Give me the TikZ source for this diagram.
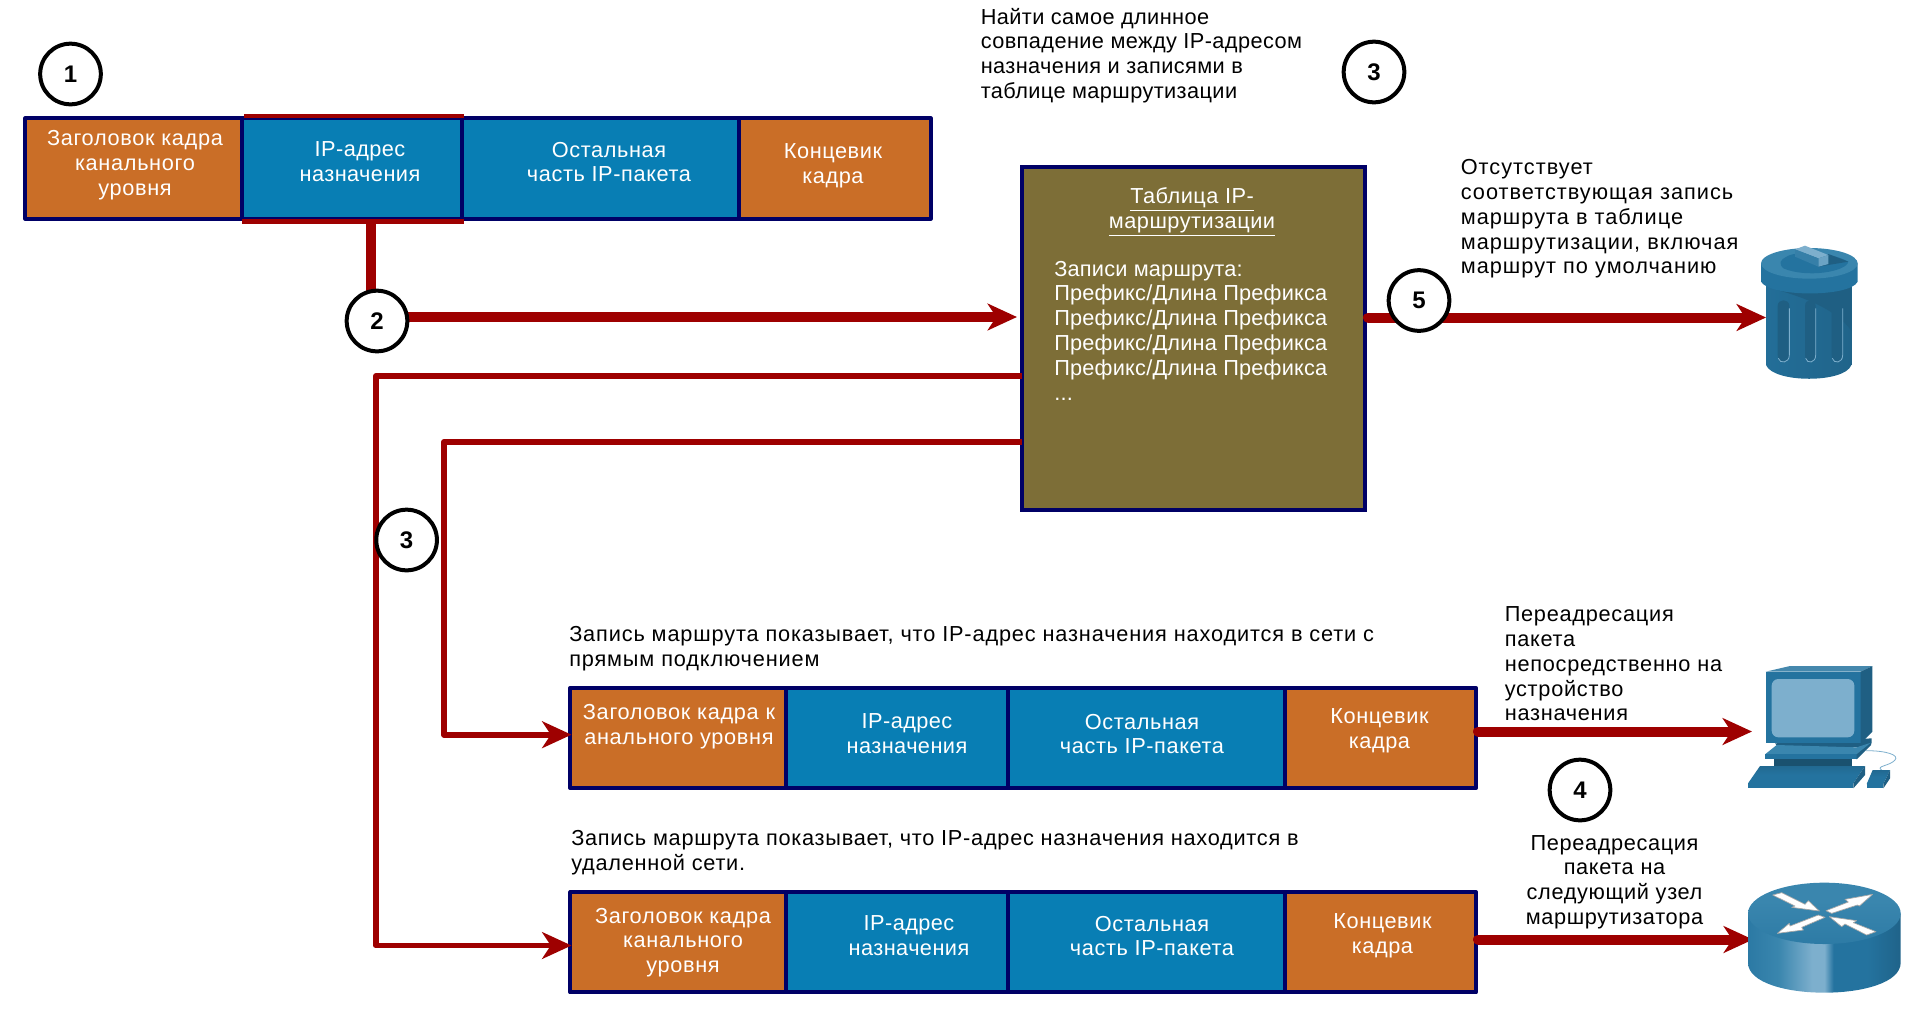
\documentclass[tikz,border=0pt]{standalone}
\usepackage{fontspec}
\setmainfont{Liberation Sans}
\usetikzlibrary{arrows.meta,calc}
\definecolor{cOrange}{HTML}{CA6E27}
\definecolor{cBlue}{HTML}{087EB4}
\definecolor{cNavy}{HTML}{000066}
\definecolor{cRed}{HTML}{9E0000}
\definecolor{cOlive}{HTML}{7D6E37}
\definecolor{iDark}{HTML}{1F5F83}
\definecolor{iMid}{HTML}{24739F}
\definecolor{iLight}{HTML}{7DAFCD}
\definecolor{iLid}{HTML}{3A86AE}
\definecolor{iDeep}{HTML}{163F58}
\pgfdeclarehorizontalshading{rside}{100bp}{color(0bp)=(iDark); color(20bp)=(iMid); color(35bp)=(iLid); color(46bp)=(iLight); color(50bp)=(iLight); color(53bp)=(iMid); color(64bp)=(iMid); color(100bp)=(iDeep)}
\pgfdeclareverticalshading{rtop}{100bp}{color(0bp)=(iMid); color(60bp)=(iLid); color(100bp)=(iLid)}
\pgfdeclareverticalshading{kbd}{100bp}{color(0bp)=(iMid); color(50bp)=(iMid); color(100bp)=(iDark)}
\pgfdeclarehorizontalshading{tbody}{100bp}{color(0bp)=(iMid); color(100bp)=(iDark)}
\tikzset{
  ls/.style={font=\fontsize{16.3pt}{18.6pt}\selectfont\addfontfeature{LetterSpace=#1}},
  txt/.style={inner sep=0pt, align=left, anchor=west, text=black},
  ctxt/.style={txt, align=center, anchor=center},
  wtxt/.style={ctxt, text=white},
  ltxt/.style={txt, text=white},
  cell/.style={draw=cNavy, line width=3pt, minimum height=75.2pt, inner sep=0pt, line join=round},
  orangecell/.style={cell, fill=cOrange},
  bluecell/.style={cell, fill=cBlue},
  badge/.style={circle, draw=black, fill=white, line width=3pt, minimum size=45.5pt, inner sep=0pt, font=\fontsize{18pt}{20pt}\selectfont\bfseries},
  headtip/.style={-{Stealth[length=22pt,width=20pt,inset=6.5pt]}},
  heavy/.style={draw=cRed, line width=7.5pt, line cap=round, headtip},
  slim/.style={draw=cRed, line width=4.4pt, line join=round, headtip},
  plainline/.style={draw=cRed, line width=7pt},
  hilite/.style={draw=cRed, line width=3.4pt},
  wingarrow/.style={fill=white, draw=gray!70, line width=.5pt, line join=round}
}
\begin{document}
\begin{tikzpicture}[x=0.75pt,y=-0.75pt]
\useasboundingbox (0,0) rectangle (1920,1033);
% top row
\node[orangecell, minimum width=162.5pt] (h1) at (133.65,168.5) {};
\node[bluecell, minimum width=165.2pt] (h2) at (352.15,168.5) {};
\node[bluecell, minimum width=207.5pt] (h3) at (600.65,168.5) {};
\node[orangecell, minimum width=143.7pt] (h4) at (834.8,168.5) {};
\node[wtxt, ls=3.1] (h1t) at (135,165) {Заголовок кадра\\канального\\уровня};
\node[wtxt, ls=2] (h2t) at (360,162) {IP-адрес\\назначения};
\node[wtxt, ls=2.8] (h3t) at (609,162) {Остальная\\часть IP-пакета};
\node[wtxt, ls=2.5] (h4t) at (833,166) {Концевик\\кадра};
\coordinate (m1a) at (244,116); \coordinate (m1b) at (464,116);
\coordinate (m2a) at (242,221.5); \coordinate (m2b) at (464,221.5);
\draw[hilite] (m1a) -- (m1b);
\draw[hilite] (m2a) -- (m2b);
% table
\node[draw=cNavy, fill=cOlive, line width=3pt, minimum width=257pt, minimum height=257pt, inner sep=0pt] (tbl) at (1193.7,338.7) {};
\node[wtxt, ls=2.3] (tblt) at (1192,212) {\underline{Таблица IP-}\\\underline{маршрутизации}};
\node[ltxt, ls=1] (tblb) at (1054,330.5) {Записи маршрута:\\Префикс/Длина Префикса\\Префикс/Длина Префикса\\Префикс/Длина Префикса\\Префикс/Длина Префикса\\...};
% labels
\node[txt, ls=1.9] (l1) at (980.5,55.5) {Найти самое длинное\\совпадение между IP-адресом\\назначения и записями в\\таблице маршрутизации};
\node[txt, ls=4.7] (l2) at (1460.5,219) {Отсутствует\\соответствующая запись\\маршрута в таблице\\маршрутизации, включая\\маршрут по умолчанию};
\node[txt, ls=3.9] (l3) at (569,649) {Запись маршрута показывает, что IP-адрес назначения находится в сети с\\прямым подключением};
\node[txt, ls=3.4] (l4) at (571,853) {Запись маршрута показывает, что IP-адрес назначения находится в\\удаленной сети.};
\node[txt, ls=3.4] (l5) at (1504.5,664) {Переадресация\\пакета\\непосредственно на\\устройство\\назначения};
\node[ctxt, ls=3] (l6) at (1614.5,882) {Переадресация\\пакета на\\следующий узел\\маршрутизатора};
% middle row
\node[orangecell, minimum width=161.8pt] (a1) at (678.15,738) {};
\node[bluecell, minimum width=166.5pt] (a2) at (897,738) {};
\node[bluecell, minimum width=207.4pt] (a3) at (1146.25,738) {};
\node[orangecell, minimum width=143.6pt] (a4) at (1380.25,738) {};
\node[wtxt, ls=3.1] (a1t) at (679,727) {Заголовок кадра к\\анального уровня};
\node[wtxt, ls=2] (a2t) at (907,734) {IP-адрес\\назначения};
\node[wtxt, ls=2.8] (a3t) at (1142,734) {Остальная\\часть IP-пакета};
\node[wtxt, ls=2.5] (a4t) at (1379.5,731) {Концевик\\кадра};
% bottom row
\node[orangecell, minimum width=161.8pt] (b1) at (678.15,942.3) {};
\node[bluecell, minimum width=166.5pt] (b2) at (897,942.3) {};
\node[bluecell, minimum width=207.4pt] (b3) at (1146.25,942.3) {};
\node[orangecell, minimum width=143.6pt] (b4) at (1380.25,942.3) {};
\node[wtxt, ls=3.1] (b1t) at (683,942.5) {Заголовок кадра\\канального\\уровня};
\node[wtxt, ls=2] (b2t) at (909,936) {IP-адрес\\назначения};
\node[wtxt, ls=2.8] (b3t) at (1152,936) {Остальная\\часть IP-пакета};
\node[wtxt, ls=2.5] (b4t) at (1382.5,936) {Концевик\\кадра};
% icon anchors
\coordinate (trash) at (1766,317.5);
\coordinate (pc) at (1752,731.5);
\coordinate (router) at (1753,939.5);
% connectors
\coordinate (v2) at (371,317);
\coordinate (tblin) at (1017,317);
\coordinate (tout) at (1368,317.5);
\coordinate (t1) at (1022,376);
\coordinate (t2) at (1022,442);
\coordinate (ain) at (571.5,734.7);
\coordinate (bin) at (571.5,945.5);
\coordinate (aout) at (1478,731.5);
\coordinate (bout) at (1478,939.5);
\draw[plainline] (h2.south -| v2) -- (v2);
\draw[heavy] (v2) -- (tblin);
\draw[heavy] (tout) -- (trash);
\draw[slim] (t1) -| (376,945.5) -- (bin);
\draw[slim] (t2) -| (444,734.7) -- (ain);
\draw[heavy] (aout) -- (pc);
\draw[heavy] (bout) -- (router);
% badges
\node[badge] (c1) at (70.5,74) {1};
\node[badge] (c2) at (377,321) {2};
\node[badge] (c3a) at (1374,72) {3};
\node[badge] (c3b) at (406.6,540) {3};
\node[badge] (c4) at (1580,790) {4};
\node[badge] (c5) at (1419,300.5) {5};
% trash can
\begin{scope}[shift={(1750,240)},x=.25pt,y=-.25pt]
  \shade[shading=tbody] (48,130) -- (48,375) .. controls (70,430) and (285,430) .. (304,375) -- (304,130) -- cycle;
  \fill[iDark] (83,150) -- (304,130) -- (304,272) .. controls (260,210) and (170,175) .. (83,150) -- cycle;
  \foreach \sx/\sw in {83/35,165/32,245/33}{
    \fill[iDark] (\sx,198) .. controls (\sx,175) and (\sx+\sw,175) .. (\sx+\sw,198) -- (\sx+\sw,345) .. controls (\sx+\sw,372) and (\sx,372) .. (\sx,345) -- cycle;
    \draw[iLight, line width=.6pt] (\sx+\sw,205) -- (\sx+\sw,345) .. controls (\sx+\sw,370) and (\sx+6,372) .. (\sx+2,355);
  }
  \fill[iMid] (33,70) -- (33,125) .. controls (60,172) and (300,172) .. (323,125) -- (323,70) -- cycle;
  \fill[iLid] (178,70) ellipse [x radius=145, y radius=46];
  \fill[iMid] (110,50) .. controls (130,35) and (230,30) .. (295,65) .. controls (290,95) and (170,115) .. (100,85) .. controls (85,70) and (90,60) .. (110,50) -- cycle;
  \fill[iDark] (205,80) -- (295,65) -- (235,42) -- cycle;
  \fill[iLight] (135,28) -- (165,17) -- (235,45) -- (205,55) -- cycle;
  \fill[iLight!80!iMid] (205,55) -- (235,45) -- (235,72) -- (205,80) -- cycle;
  \fill[iMid!80!iLight] (135,28) -- (205,55) -- (205,80) -- (135,50) -- cycle;
\end{scope}
% computer
\begin{scope}[shift={(1740,660)},x=.25pt,y=-.25pt]
  \draw[iLight, line width=.6pt] (378,272) .. controls (440,272) and (478,285) .. (465,300) .. controls (450,318) and (405,318) .. (425,330);
  \fill[iDark] (105,250) -- (395,235) -- (395,250) -- (352,262) -- (115,262) -- cycle;
  \fill[iLid] (75,283) -- (110,255) -- (350,262) -- (393,248) -- (377,268) -- (350,283) -- cycle;
  \fill[iMid] (75,283) -- (350,283) -- (350,298) -- (75,298) -- cycle;
  \fill[iDark] (350,283) -- (393,248) -- (393,255) -- (350,298) -- cycle;
  \fill[iDark!85!black] (103,298) -- (335,298) -- (335,318) -- (103,318) -- cycle;
  \shade[shading=kbd] (60,318) -- (375,318) -- (340,370) -- (24,370) -- cycle;
  \fill[iMid] (24,370) -- (340,370) -- (340,385) -- (24,385) -- cycle;
  \fill[iDark] (340,370) -- (375,318) -- (375,345) -- (340,385) -- cycle;
  \shade[shading=kbd] (398,330) -- (450,330) -- (430,372) -- (380,372) -- cycle;
  \fill[iMid] (380,372) -- (430,372) -- (430,385) -- (380,385) -- cycle;
  \fill[iDark] (430,372) -- (450,330) -- (450,355) -- (430,385) -- cycle;
  \fill[iMid] (77,35) -- (362,35) -- (362,250) -- (77,250) -- cycle;
  \fill[iMid!85!white] (77,35) -- (150,18) -- (397,18) -- (362,35) -- cycle;
  \fill[iDark] (362,35) -- (397,18) -- (397,215) -- (362,250) -- cycle;
  \fill[iLight, rounded corners=5pt] (95,57) rectangle (343,232);
\end{scope}
% router
\begin{scope}[shift={(1740,870)},x=.25pt,y=-.25pt]
  \shade[shading=rside] (24,130) -- (24,278) .. controls (24,398) and (482,398) .. (482,278) -- (482,130) -- cycle;
  \shade[shading=rtop] (253,130) ellipse [x radius=229, y radius=92];
  \draw[wingarrow] (98,75) -- (125,68) -- (195,103) -- (205,92) -- (238,123) -- (155,112) -- (165,108) -- cycle;
  \draw[wingarrow] (398,73) -- (315,88) -- (325,96) -- (258,122) -- (275,130) -- (352,105) -- (358,108) -- cycle;
  \draw[wingarrow] (112,190) -- (148,160) -- (150,168) -- (235,135) -- (255,142) -- (185,172) -- (190,180) -- cycle;
  \draw[wingarrow] (268,140) -- (350,152) -- (340,158) -- (408,185) -- (380,195) -- (315,162) -- (305,170) -- cycle;
\end{scope}
\end{tikzpicture}
\end{document}
